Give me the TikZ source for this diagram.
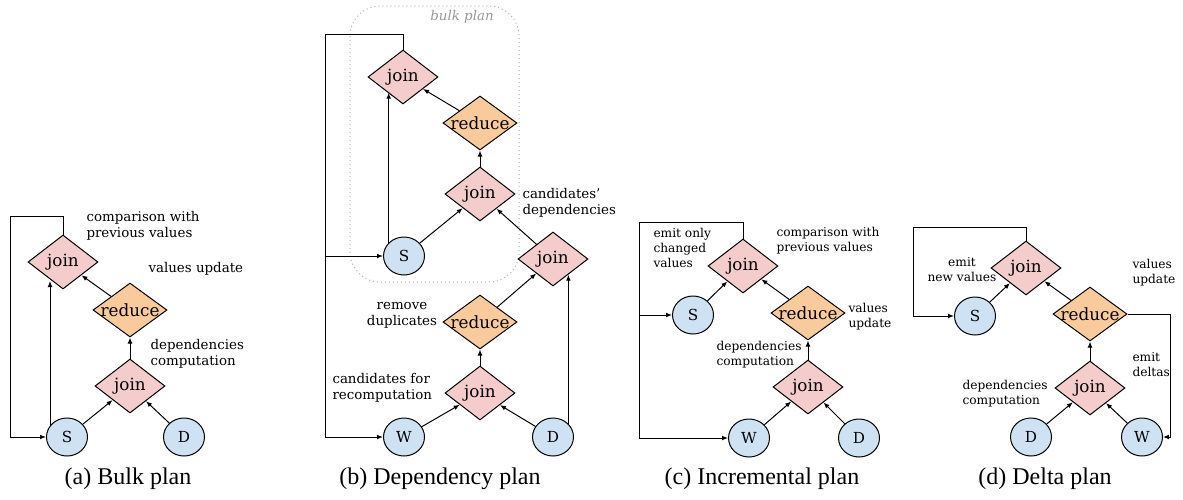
\documentclass[tikz,border=0pt]{standalone}
\usepackage{fontspec}
\setmainfont{DejaVu Serif}
\newfontfamily\capfont{Liberation Serif}
\usetikzlibrary{shapes.geometric,arrows.meta}
\definecolor{joinpink}{HTML}{F4CCCC}
\definecolor{reduceorange}{HTML}{F9CB9C}
\definecolor{relblue}{HTML}{CFE2F3}
\newcommand{\optext}[1]{\makebox[0pt]{#1}}

\begin{document}
\begin{tikzpicture}[x=0.5pt, y=-0.5pt, line width=0.5pt,
    >={Latex[length=3pt,width=2.4pt]},
    every node/.style={font=\fontsize{6.7}{8}\selectfont, inner sep=0pt},
    joinop/.style={diamond, draw, fill=joinpink, minimum width=35pt, minimum height=27pt, font=\fontsize{8.4}{10}\selectfont},
    reduceop/.style={joinop, fill=reduceorange, minimum width=37pt},
    relation/.style={ellipse, draw, fill=relblue, minimum width=20.5pt, minimum height=19pt, font=\fontsize{7.6}{9}\selectfont},
    note/.style={anchor=west, align=left},
    smallnote/.style={note, font=\fontsize{6.1}{7.5}\selectfont},
    subcap/.style={font=\capfont\fontsize{12}{14}\selectfont}]
    \useasboundingbox (0,0) rectangle (1183,499);

    % (a) bulk plan
    \node[joinop] (ja2) at (63,262) {\optext{join}};
    \node[reduceop] (ra) at (130,310) {\optext{reduce}};
    \node[joinop] (ja1) at (130,386) {\optext{join}};
    \node[relation] (Sa) at (67,437) {S};
    \node[relation] (Da) at (184,437) {D};
    \coordinate (loopa) at (10,216);
    \draw[->] (Sa) -- (ja1);
    \draw[->] (Da) -- (ja1);
    \draw[->] (ja1) -- (ra);
    \draw[->] (ra) -- (ja2);
    \draw[->] (Sa.146) -- (Sa.146 |- ja2.240);
    \draw[->] (ja2.north) |- (loopa) |- (Sa.west);
    \node[note] at (86,226) {comparison with\\previous values};
    \node[note] at (148,269) {values update};
    \node[note] at (150,354) {dependencies\\computation};
    \node[subcap] at (128,479) {(a) Bulk plan};

    % (b) dependency plan
    \draw[gray!60, dash pattern=on 0.5pt off 1.5pt, rounded corners=15pt] (350,6) rectangle (519,282);
    \node[gray!80, font=\fontsize{6.7}{8}\selectfont\itshape] at (462,17) {bulk plan};
    \node[joinop] (jb1) at (403,77) {\optext{join}};
    \node[reduceop] (rb1) at (480,123) {\optext{reduce}};
    \node[joinop] (jb2) at (480,194) {\optext{join}};
    \node[relation] (Sb) at (404,256) {S};
    \node[joinop] (jb3) at (553,259) {\optext{join}};
    \node[reduceop] (rb2) at (480,322) {\optext{reduce}};
    \node[joinop] (jb4) at (480,393) {\optext{join}};
    \node[relation] (Wb) at (404,437) {W};
    \node[relation] (Db) at (553,437) {D};
    \coordinate (loopb) at (325,34);
    \draw[->] (jb2) -- (rb1);
    \draw[->] (rb1) -- (jb1);
    \draw[->] (Sb) -- (jb2);
    \draw[->] (jb3) -- (jb2);
    \draw[->] (Sb.139) -- (Sb.139 |- jb1.226);
    \draw[->] (jb4) -- (rb2);
    \draw[->] (rb2) -- (jb3);
    \draw[->] (Wb) -- (jb4);
    \draw[->] (Db) -- (jb4);
    \draw[->] (Db.41) -- (Db.41 |- jb3.314);
    \draw[->] (jb1.north) |- (loopb) |- (Wb.west);
    \draw[->] (loopb |- Sb.west) -- (Sb.west);
    \node[note] at (522,203) {candidates’\\dependencies};
    \node[align=center] at (402,315) {remove\\duplicates};
    \node[note] at (332,388) {candidates for\\recomputation};
    \node[subcap] at (440,479) {(b) Dependency plan};

    % (c) incremental plan
    \node[joinop] (jc2) at (743,266) {\optext{join}};
    \node[relation] (Sc) at (693,315) {S};
    \node[reduceop] (rc) at (808,313) {\optext{reduce}};
    \node[joinop] (jc1) at (808,387) {\optext{join}};
    \node[relation] (Wc) at (749,438) {W};
    \node[relation] (Dc) at (859,438) {D};
    \coordinate (loopc) at (639,222);
    \draw[->] (Sc) -- (jc2);
    \draw[->] (rc) -- (jc2);
    \draw[->] (jc1) -- (rc);
    \draw[->] (Wc) -- (jc1);
    \draw[->] (Dc) -- (jc1);
    \draw[->] (jc2.north) |- (loopc) |- (Wc.west);
    \draw[->] (loopc |- Sc.west) -- (Sc.west);
    \node[smallnote] at (653,248) {emit only\\changed\\values};
    \node[smallnote] at (776,241) {comparison with\\previous values};
    \node[smallnote] at (848,317) {values\\update};
    \node[smallnote] at (716,355) {dependencies\\computation};
    \node[subcap] at (762,479) {(c) Incremental plan};

    % (d) delta plan
    \node[joinop] (jd2) at (1026,268) {\optext{join}};
    \node[relation] (Sd) at (975,316) {S};
    \node[reduceop] (rd) at (1090,314) {\optext{reduce}};
    \node[joinop] (jd1) at (1090,388) {\optext{join}};
    \node[relation] (Dd) at (1031,437) {D};
    \node[relation] (Wd) at (1142,437) {W};
    \coordinate (loopd) at (913,227);
    \coordinate (turnd) at (1170,380);
    \draw[->] (Sd) -- (jd2);
    \draw[->] (rd) -- (jd2);
    \draw[->] (jd1) -- (rd);
    \draw[->] (Dd) -- (jd1);
    \draw[->] (Wd) -- (jd1);
    \draw[->] (jd2.north) |- (loopd) |- (Sd.west);
    \draw[->] (rd.east) -| (turnd) |- (Wd.east);
    \node[smallnote, anchor=center, align=center] at (962,270) {emit\\new values};
    \node[smallnote] at (1132,273) {values\\update};
    \node[smallnote] at (1132,365) {emit\\deltas};
    \node[smallnote] at (962,394) {dependencies\\computation};
    \node[subcap] at (1045,479) {(d) Delta plan};
\end{tikzpicture}
\end{document}
